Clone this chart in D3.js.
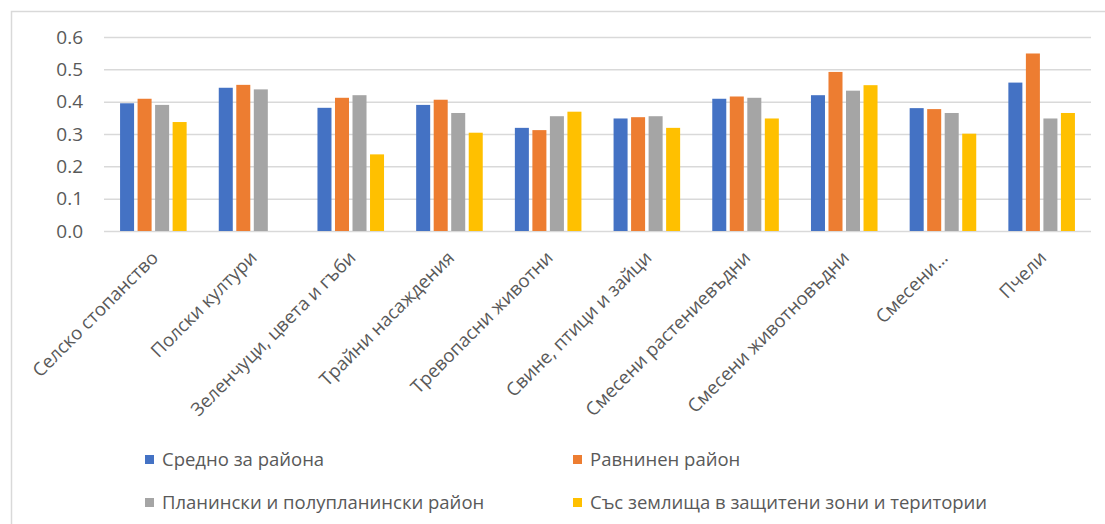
<!DOCTYPE html>
<html>
<head>
<meta charset="utf-8">
<script src="https://cdn.jsdelivr.net/npm/d3@7"></script>
<style>
  html, body { margin: 0; padding: 0; background: #fff; }
  svg { display: block; font-family: "Open Sans", "DejaVu Sans", sans-serif; }
</style>
</head>
<body>
<svg id="chart" width="1105" height="524"></svg>
<script>
const categories = ["Селско стопанство", "Полски култури", "Зеленчуци, цвета и гъби", "Трайни насаждения",
  "Тревопасни животни", "Свине, птици и зайци", "Смесени растениевъдни", "Смесени животновъдни",
  "Смесени…", "Пчели"];
const seriesNames = ["Средно за района", "Равнинен район", "Планински и полупланински район",
  "Със землища в защитени зони и територии"];
const avgRegion   = [0.395, 0.443, 0.381, 0.390, 0.319, 0.348, 0.409, 0.420, 0.380, 0.459];
const plainRegion = [0.409, 0.452, 0.412, 0.406, 0.312, 0.352, 0.416, 0.492, 0.377, 0.549];
const mountRegion = [0.390, 0.438, 0.420, 0.365, 0.355, 0.355, 0.412, 0.434, 0.365, 0.348];
const protRegion  = [0.337, 0,     0.237, 0.304, 0.369, 0.319, 0.348, 0.451, 0.301, 0.365];
const yTicks = [0, 0.1, 0.2, 0.3, 0.4, 0.5, 0.6];
const colors = ["#4472C4", "#ED7D31", "#A5A5A5", "#FFC000"];

const values = [avgRegion, plainRegion, mountRegion, protRegion];
const svg = d3.select("#chart");
const textColor = "#595959";

// outer chart border
svg.append("rect").attr("x", 11.5).attr("y", 11.5).attr("width", 1110).attr("height", 530)
  .attr("fill", "none").attr("stroke", "#d9d9d9").attr("stroke-width", 1.5);

const plot = { left: 104, right: 1091, top: 37, bottom: 231 };

const x0 = d3.scaleBand().domain(categories).range([plot.left, plot.right])
  .paddingInner(0.29).paddingOuter(0.145);
const x1 = d3.scaleBand().domain(d3.range(seriesNames.length)).range([0, x0.bandwidth()])
  .paddingInner(0.2).paddingOuter(0.1);
const y = d3.scaleLinear().domain([0, 0.6]).range([plot.bottom, plot.top]);

// gridlines
const yAxis = d3.axisLeft(y).tickValues(yTicks).tickFormat(d3.format(".1f"))
  .tickSize(-(plot.right - plot.left)).tickPadding(21);
const gy = svg.append("g").attr("transform", `translate(${plot.left},0)`).call(yAxis);
gy.select(".domain").remove();
gy.selectAll(".tick line").attr("stroke", "#d9d9d9").attr("stroke-width", 1.5);
gy.selectAll(".tick text").attr("fill", textColor).attr("font-size", 19)
  .attr("font-family", "'Open Sans', sans-serif");

// bars
const groups = svg.append("g").selectAll("g").data(categories).join("g")
  .attr("transform", d => `translate(${x0(d)},0)`);
groups.selectAll("rect").data((d, i) => values.map((s, k) => ({ k, v: s[i] })))
  .join("rect")
  .filter(d => d.v > 0)
  .attr("x", d => x1(d.k))
  .attr("width", x1.bandwidth())
  .attr("y", d => y(d.v))
  .attr("height", d => y(0) - y(d.v))
  .attr("fill", d => colors[d.k]);

// x axis labels
const xAxis = d3.axisBottom(x0).tickSize(0).tickPadding(0);
const gx = svg.append("g").attr("transform", `translate(0,${plot.bottom})`).call(xAxis);
gx.select(".domain").remove();
gx.selectAll(".tick text")
  .attr("fill", textColor).attr("font-size", 18.5)
  .attr("font-family", "'Open Sans', sans-serif")
  .attr("text-anchor", "end")
  .attr("dy", null).attr("y", null)
  .attr("transform", "translate(6,28) rotate(-45)");

// legend
const legendItems = [
  { i: 0, x: 145, y: 460 }, { i: 1, x: 573, y: 460 },
  { i: 2, x: 145, y: 503 }, { i: 3, x: 573, y: 503 }
];
const lg = svg.append("g").selectAll("g").data(legendItems).join("g")
  .attr("transform", d => `translate(${d.x},${d.y})`);
lg.append("rect").attr("x", 0).attr("y", -5).attr("width", 9).attr("height", 9)
  .attr("fill", d => colors[d.i]);
lg.append("text").attr("x", 17).attr("y", 0).attr("dy", "0.35em")
  .attr("fill", textColor).attr("font-size", 18.5)
  .text(d => seriesNames[d.i]);
</script>
</body>
</html>
